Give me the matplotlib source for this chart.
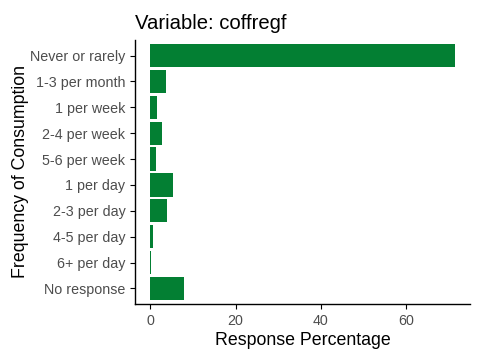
import numpy as np
import matplotlib
matplotlib.use('Agg')
import matplotlib.pyplot as plt

# response shares
categories = ['Never or rarely', '1-3 per month', '1 per week', '2-4 per week',
              '5-6 per week', '1 per day', '2-3 per day', '4-5 per day',
              '6+ per day', 'No response']
percent = [71.4, 3.75, 1.65, 2.8, 1.4, 5.4, 4.0, 0.7, 0.2, 7.95]
xticks = [0, 20, 40, 60]

plt.rcParams['font.family'] = ['Liberation Sans', 'DejaVu Sans']

fig = plt.figure(figsize=(4.8, 3.6), dpi=100)
ax = fig.add_axes([135/480, 1-304/360, (470-135)/480, (304-40)/360])

pos = np.arange(len(categories))[::-1] + 1
ax.barh(pos, percent, height=0.9, color='#037F33')

top = max(percent)
ax.set_xlim(-0.05*top, top*1.05)
ax.set_ylim(0.4, len(categories) + 0.6)
ax.set_yticks(pos)
ax.set_yticklabels(categories)
ax.set_xticks(xticks)
ax.tick_params(colors='black', labelcolor='#4D4D4D', labelsize=10.3, length=3.5, width=0.8)
for s in ['top', 'right']:
  ax.spines[s].set_visible(False)
for s in ['left', 'bottom']:
  ax.spines[s].set_linewidth(1.0)

ax.set_xlabel('Response Percentage', fontsize=12.8, labelpad=3)
ax.set_ylabel('Frequency of Consumption', fontsize=12.8, labelpad=1)
ax.set_title('Variable: coffregf', fontsize=14.6, loc='left', pad=8)

fig.savefig('out.png', dpi=100)
